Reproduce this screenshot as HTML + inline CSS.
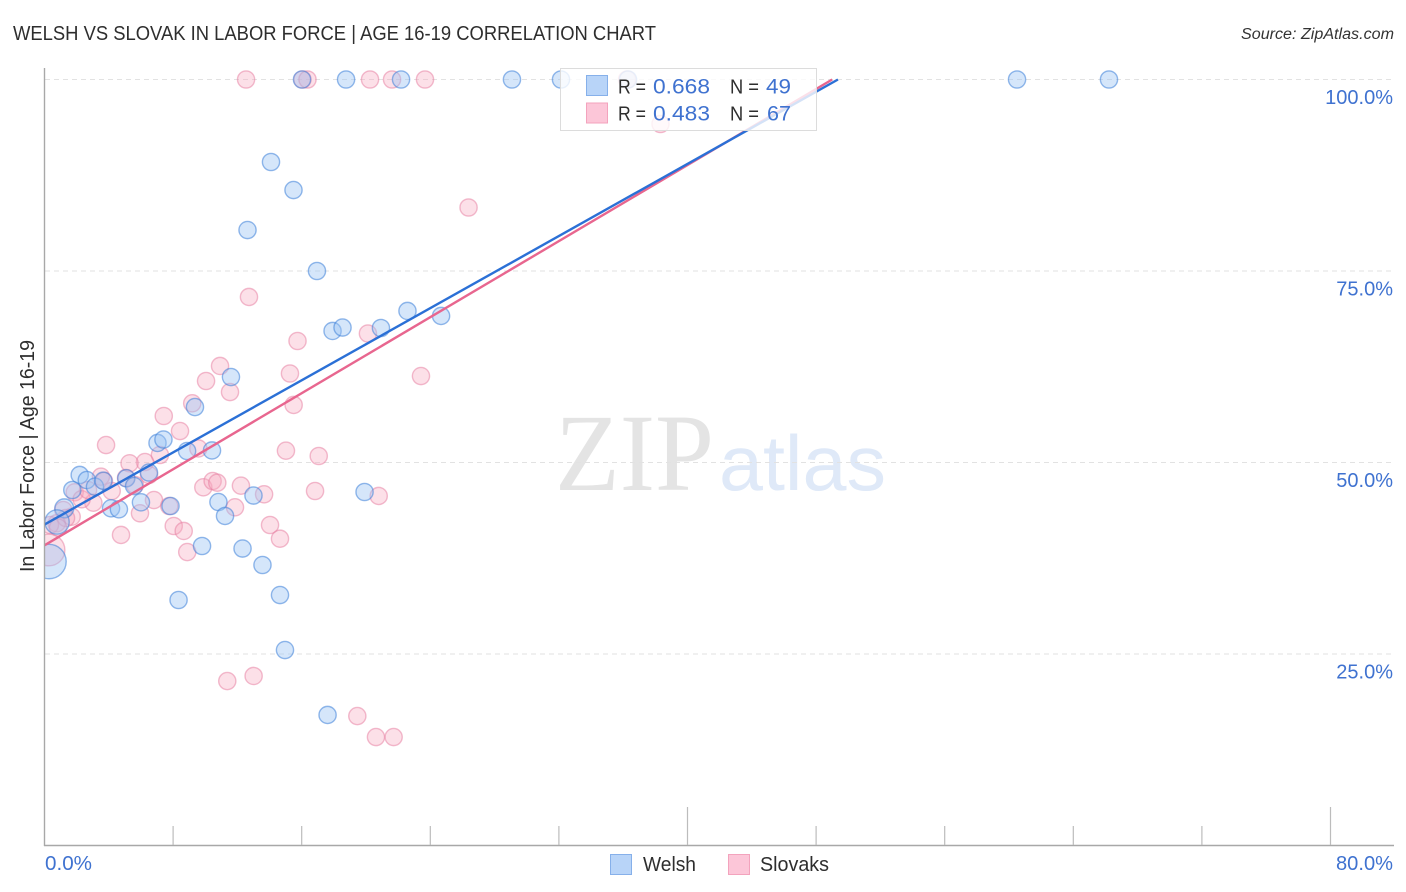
<!DOCTYPE html>
<html lang="en">
<head>
<meta charset="utf-8">
<title>Welsh vs Slovak in Labor Force | Age 16-19 Correlation Chart</title>
<style>
html,body{margin:0;padding:0;background:#fff;width:1406px;height:892px;overflow:hidden}
svg{display:block}
text{font-family:"Liberation Sans",sans-serif}
</style>
</head>
<body>
<svg id="chart" xmlns="http://www.w3.org/2000/svg" width="1406" height="892" viewBox="0 0 1406 892">
  <defs>
    <clipPath id="plot-clip"><rect x="45" y="60" width="1349" height="785"/></clipPath>
  </defs>
  <text x="13" y="40" font-size="20.5" fill="#2e2e2e" textLength="643" lengthAdjust="spacingAndGlyphs">WELSH VS SLOVAK IN LABOR FORCE | AGE 16-19 CORRELATION CHART</text>
  <text x="1241" y="39" font-size="15.5" font-style="italic" fill="#333" textLength="153" lengthAdjust="spacingAndGlyphs">Source: ZipAtlas.com</text>
  <g>
    <text x="555" y="490" font-size="110" fill="#e4e4e4" style="font-family:'Liberation Serif',serif" textLength="159" lengthAdjust="spacingAndGlyphs">ZIP</text>
    <text x="719" y="490" font-size="78" fill="#dfe9f8" textLength="167" lengthAdjust="spacingAndGlyphs">atlas</text>
  </g>
  <g id="grid"></g>
  <g id="pts" clip-path="url(#plot-clip)"></g>
  <g id="trends"></g>
  <g id="axes"></g>
  <text transform="translate(34,572) rotate(-90)" font-size="20" fill="#2e2e2e" textLength="232" lengthAdjust="spacingAndGlyphs">In Labor Force | Age 16-19</text>

  <g>
    <rect x="560.5" y="68.5" width="256" height="62" fill="#fff" fill-opacity="0.8" stroke="#dcdcdc" stroke-width="1"/>
    <rect x="586.5" y="75.5" width="21" height="20" fill="#b8d4f8" stroke="#86b0ea"/>
    <rect x="586.5" y="103" width="21" height="20" fill="#fcc6d8" stroke="#f3a3bd"/>
    <text x="618" y="93.5" font-size="20" fill="#2e2e2e" textLength="28" lengthAdjust="spacingAndGlyphs">R =</text>
    <text x="653" y="93.5" font-size="21" fill="#3f72d0" textLength="57" lengthAdjust="spacingAndGlyphs">0.668</text>
    <text x="730" y="93.5" font-size="20" fill="#2e2e2e" textLength="29" lengthAdjust="spacingAndGlyphs">N =</text>
    <text x="766" y="93.5" font-size="21" fill="#3f72d0" textLength="25" lengthAdjust="spacingAndGlyphs">49</text>
    <text x="618" y="120.5" font-size="20" fill="#2e2e2e" textLength="28" lengthAdjust="spacingAndGlyphs">R =</text>
    <text x="653" y="120.5" font-size="21" fill="#3f72d0" textLength="57" lengthAdjust="spacingAndGlyphs">0.483</text>
    <text x="730" y="120.5" font-size="20" fill="#2e2e2e" textLength="29" lengthAdjust="spacingAndGlyphs">N =</text>
    <text x="767" y="120.5" font-size="21" fill="#3f72d0" textLength="24" lengthAdjust="spacingAndGlyphs">67</text>
  </g>

  <g>
    <rect x="610.5" y="854.5" width="21" height="20" fill="#b8d4f8" stroke="#86b0ea"/>
    <text x="643" y="871" font-size="20" fill="#2e2e2e" textLength="53" lengthAdjust="spacingAndGlyphs">Welsh</text>
    <rect x="728.5" y="854.5" width="21" height="20" fill="#fcc6d8" stroke="#f3a3bd"/>
    <text x="760" y="871" font-size="20" fill="#2e2e2e" textLength="69" lengthAdjust="spacingAndGlyphs">Slovaks</text>
  </g>
</svg>
<script>
const yTicks = [100, 75, 50, 25];
const yTickLabels = ["100.0%", "75.0%", "50.0%", "25.0%"];
const xTicks = [0, 8, 16, 24, 32, 40, 48, 56, 64, 72, 80];
const xMajorTicks = [40, 80];
const xEndLabels = ["0.0%", "80.0%"];

const welshX = [16.02,18.76,22.18,29.08,32.13,36.30,60.50,66.22,14.09,15.49,12.63,16.95,17.92,18.54,20.93,22.58,24.67,11.60,9.36,7.03,7.40,8.87,10.42,6.50,7.84,10.82,11.23,13.00,19.91,9.80,12.32,13.56,14.65,14.96,8.34,17.61,2.19,1.73,2.63,3.14,3.66,5.09,5.57,6.00,4.14,4.63,1.23,0.78,0.28];
const welshY = [100,100,100,100,100,100,100,100,89.23,85.57,80.35,75.0,67.17,67.62,67.56,69.78,69.13,61.16,57.24,52.55,53.0,51.5,51.57,48.69,44.32,44.84,43.02,45.69,46.15,39.1,38.77,36.62,32.7,25.52,32.05,17.04,48.37,46.41,47.71,46.84,47.62,47.94,46.93,44.8,44.02,43.89,44.02,42.23,37.07];
const welshWeight = [1,1,1,1,1,1,1,1,1,1,1,1,1,1,1,1,1,1,1,1,1,1,1,1,1,1,1,1,1,1,1,1,1,1,1,1,1,1,1,1,1,1,1,1,1,1,1.2,2,4];

const slovaksX = [12.54,16.05,16.36,20.25,21.62,23.67,36.24,38.32,26.38,12.72,15.74,20.12,23.42,15.27,10.92,10.05,11.54,15.50,9.19,7.42,8.43,9.57,15.02,17.06,7.18,6.25,5.29,9.88,10.46,10.75,12.22,16.83,13.66,20.79,11.85,6.81,7.76,8.04,8.66,8.88,14.03,14.65,11.37,13.01,19.46,20.62,21.72,3.83,3.51,1.88,4.18,3.04,2.31,1.69,1.17,0.76,0.34,4.76,5.94,5.63,6.50,5.07,2.71,1.34,3.70,0.84,0.28];
const slovaksY = [100,100,100,100,100,100,100,94.19,83.29,71.61,65.86,66.84,61.29,61.62,62.6,60.64,59.2,57.51,57.73,56.07,54.11,51.83,51.54,50.85,50.98,50.06,49.9,46.76,47.58,47.36,46.97,46.28,45.85,45.63,44.15,45.1,44.32,41.71,41.06,38.31,41.84,40.05,21.47,22.13,16.9,14.16,14.16,52.28,48.15,46.11,46.28,44.75,45.2,42.92,43.8,42.06,41.84,40.54,43.37,47.06,48.37,47.98,46.41,42.75,47.58,41.51,38.58];
const slovaksWeight = [1,1,1,1,1,1,1,1,1,1,1,1,1,1,1,1,1,1,1,1,1,1,1,1,1,1,1,1,1,1,1,1,1,1,1,1,1,1,1,1,1,1,1,1,1,1,1,1,1,1,1,1,1,1,1,1,1,1,1,1,1,1,1,1,1,1,3.4];

const welshTrendX = [0, 49.36];
const welshTrendY = [41.9, 100];
const slovaksTrendX = [0, 49.0];
const slovaksTrendY = [39.19, 100];

function xScale(v) { return 44.5 + v * 16.075; }
function yScale(v) { return 79.5 + (100 - v) * 7.66; }

const NS = "http://www.w3.org/2000/svg";
function mk(tag, parent, props) {
  const el = document.createElementNS(NS, tag);
  for (const k in props) el.setAttribute(k, props[k]);
  parent.appendChild(el);
  return el;
}

const grid = document.getElementById("grid");
const axes = document.getElementById("axes");
const pts = document.getElementById("pts");
const trends = document.getElementById("trends");

yTicks.forEach(function (t, i) {
  const line = mk("line", grid, {x1: 45, x2: 1394, y1: yScale(t), y2: yScale(t), stroke: "#e2e2e2", "stroke-width": 1, "stroke-dasharray": "5 4"});
  
  
  const label = mk("text", axes, {x: 1393, y: yScale(t) + 24.5, "font-size": 20, fill: "#3f72d0", "text-anchor": "end"});
  label.textContent = yTickLabels[i];
  
  
});

const yAxis = mk("line", axes, {x1: 44.5, x2: 44.5, y1: 68, y2: 846, stroke: "#a8a8a8", "stroke-width": 1.4});


const xAxis = mk("line", axes, {x1: 44, x2: 1394, y1: 845.5, y2: 845.5, stroke: "#a8a8a8", "stroke-width": 1.4});



xTicks.slice(1).forEach(function (t) {
  const top = xMajorTicks.indexOf(t) >= 0 ? 807 : 826;
  const tick = mk("line", axes, {x1: xScale(t), x2: xScale(t), y1: top, y2: 845, stroke: "#bcbcbc", "stroke-width": 1.2});
  
  
});

const xLabelLeft = mk("text", axes, {x: 45, y: 870, "font-size": 20, fill: "#3f72d0", textLength: 47, lengthAdjust: "spacingAndGlyphs"});
xLabelLeft.textContent = xEndLabels[0];


const xLabelRight = mk("text", axes, {x: 1336, y: 870, "font-size": 20, fill: "#3f72d0", textLength: 57, lengthAdjust: "spacingAndGlyphs"});
xLabelRight.textContent = xEndLabels[1];



function radius(w) { return 8.6 * Math.sqrt(w); }

slovaksX.forEach(function (x, i) {
  const c = mk("circle", pts, {cx: xScale(x), cy: yScale(slovaksY[i]), r: radius(slovaksWeight[i]), fill: "#f7a8c0", "fill-opacity": 0.36, stroke: "#e77fa2", "stroke-opacity": 0.52, "stroke-width": 1.4});
  
  
});
welshX.forEach(function (x, i) {
  const c = mk("circle", pts, {cx: xScale(x), cy: yScale(welshY[i]), r: radius(welshWeight[i]), fill: "#9cc3f2", "fill-opacity": 0.42, stroke: "#3d7fd9", "stroke-opacity": 0.55, "stroke-width": 1.4});
  
  
});

const pinkLine = mk("line", trends, {x1: xScale(slovaksTrendX[0]), y1: yScale(slovaksTrendY[0]), x2: xScale(slovaksTrendX[1]), y2: yScale(slovaksTrendY[1]), stroke: "#e8668f", "stroke-width": 2.4});


const blueLine = mk("line", trends, {x1: xScale(welshTrendX[0]), y1: yScale(welshTrendY[0]), x2: xScale(welshTrendX[1]), y2: yScale(welshTrendY[1]), stroke: "#2b70d6", "stroke-width": 2.4});


</script>
</body>
</html>
